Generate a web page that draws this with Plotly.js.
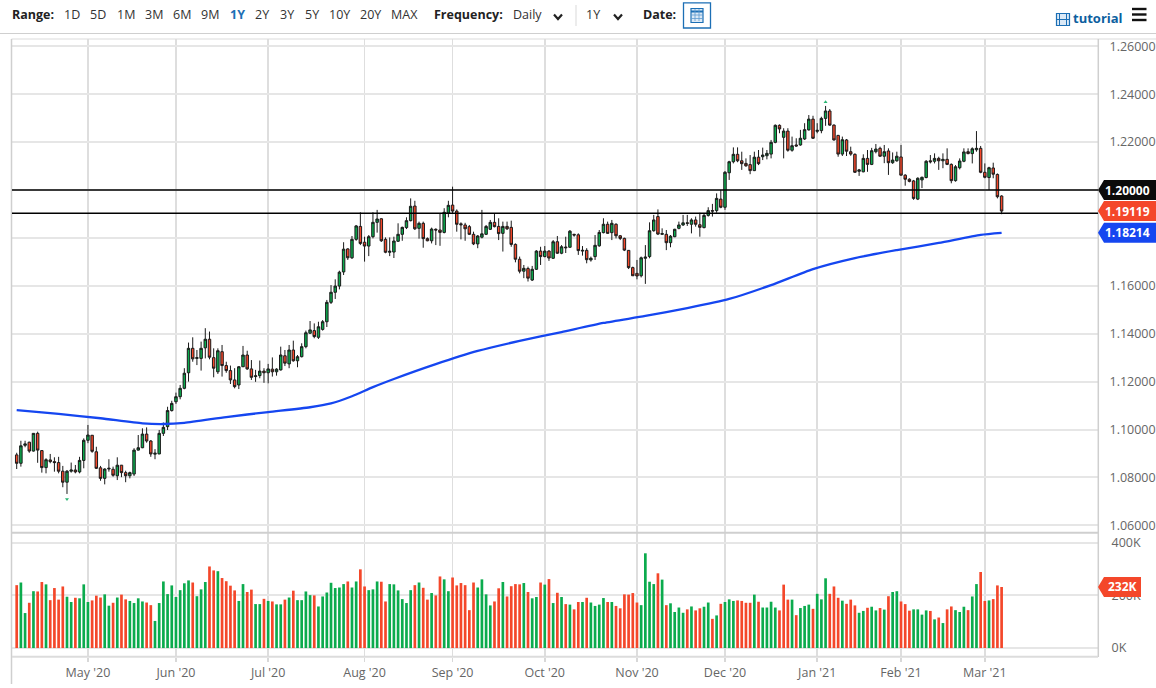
<!DOCTYPE html>
<html>
<head>
<meta charset="utf-8">
<script src="https://cdn.plot.ly/plotly-3.0.1.min.js"></script>
<style>html,body{margin:0;padding:0;background:#fff;overflow:hidden}#chart{width:1156px;height:688px}</style>
</head>
<body>
<div id="chart"></div>
<script>
const dates = [
"2020-04-08","2020-04-09","2020-04-10","2020-04-13","2020-04-14","2020-04-15","2020-04-16","2020-04-17","2020-04-20","2020-04-21","2020-04-22","2020-04-23","2020-04-24","2020-04-27","2020-04-28","2020-04-29","2020-04-30",
"2020-05-01","2020-05-04","2020-05-05","2020-05-06","2020-05-07","2020-05-08","2020-05-11","2020-05-12","2020-05-13","2020-05-14","2020-05-15","2020-05-18","2020-05-19","2020-05-20","2020-05-21","2020-05-22","2020-05-25","2020-05-26","2020-05-27","2020-05-28","2020-05-29",
"2020-06-01","2020-06-02","2020-06-03","2020-06-04","2020-06-05","2020-06-08","2020-06-09","2020-06-10","2020-06-11","2020-06-12","2020-06-15","2020-06-16","2020-06-17","2020-06-18","2020-06-19","2020-06-22","2020-06-23","2020-06-24","2020-06-25","2020-06-26","2020-06-29","2020-06-30",
"2020-07-01","2020-07-02","2020-07-03","2020-07-06","2020-07-07","2020-07-08","2020-07-09","2020-07-10","2020-07-13","2020-07-14","2020-07-15","2020-07-16","2020-07-17","2020-07-20","2020-07-21","2020-07-22","2020-07-23","2020-07-24","2020-07-27","2020-07-28","2020-07-29","2020-07-30","2020-07-31",
"2020-08-03","2020-08-04","2020-08-05","2020-08-06","2020-08-07","2020-08-10","2020-08-11","2020-08-12","2020-08-13","2020-08-14","2020-08-17","2020-08-18","2020-08-19","2020-08-20","2020-08-21","2020-08-24","2020-08-25","2020-08-26","2020-08-27","2020-08-28","2020-08-31",
"2020-09-01","2020-09-02","2020-09-03","2020-09-04","2020-09-07","2020-09-08","2020-09-09","2020-09-10","2020-09-11","2020-09-14","2020-09-15","2020-09-16","2020-09-17","2020-09-18","2020-09-21","2020-09-22","2020-09-23","2020-09-24","2020-09-25","2020-09-28","2020-09-29","2020-09-30",
"2020-10-01","2020-10-02","2020-10-05","2020-10-06","2020-10-07","2020-10-08","2020-10-09","2020-10-12","2020-10-13","2020-10-14","2020-10-15","2020-10-16","2020-10-19","2020-10-20","2020-10-21","2020-10-22","2020-10-23","2020-10-26","2020-10-27","2020-10-28","2020-10-29","2020-10-30",
"2020-11-02","2020-11-03","2020-11-04","2020-11-05","2020-11-06","2020-11-09","2020-11-10","2020-11-11","2020-11-12","2020-11-13","2020-11-16","2020-11-17","2020-11-18","2020-11-19","2020-11-20","2020-11-23","2020-11-24","2020-11-25","2020-11-26","2020-11-27","2020-11-30",
"2020-12-01","2020-12-02","2020-12-03","2020-12-04","2020-12-07","2020-12-08","2020-12-09","2020-12-10","2020-12-11","2020-12-14","2020-12-15","2020-12-16","2020-12-17","2020-12-18","2020-12-21","2020-12-22","2020-12-23","2020-12-24","2020-12-28","2020-12-29","2020-12-30","2020-12-31",
"2021-01-04","2021-01-05","2021-01-06","2021-01-07","2021-01-08","2021-01-11","2021-01-12","2021-01-13","2021-01-14","2021-01-15","2021-01-18","2021-01-19","2021-01-20","2021-01-21","2021-01-22","2021-01-25","2021-01-26","2021-01-27","2021-01-28","2021-01-29",
"2021-02-01","2021-02-02","2021-02-03","2021-02-04","2021-02-05","2021-02-08","2021-02-09","2021-02-10","2021-02-11","2021-02-12","2021-02-15","2021-02-16","2021-02-17","2021-02-18","2021-02-19","2021-02-22","2021-02-23","2021-02-24","2021-02-25","2021-02-26",
"2021-03-01","2021-03-02","2021-03-03","2021-03-04","2021-03-05"];

const opens = [
1.0894,1.0859,1.0934,1.0947,1.0910,1.0984,1.0912,1.0841,1.0873,1.0866,
1.0862,1.0826,1.0780,1.0826,1.0831,1.0823,1.0871,1.0955,1.0976,1.0907,
1.0840,1.0796,1.0835,1.0834,1.0807,1.0851,1.0820,1.0807,1.0814,1.0914,
1.0924,1.0981,1.0952,1.0897,1.0898,1.0984,1.1012,1.1079,1.1116,1.1137,
1.1172,1.1237,1.1339,1.1297,1.1297,1.1341,1.1377,1.1300,1.1241,1.1325,
1.1267,1.1246,1.1207,1.1186,1.1262,1.1311,1.1253,1.1221,1.1225,1.1244,
1.1237,1.1252,1.1241,1.1249,1.1308,1.1274,1.1332,1.1287,1.1304,1.1346,
1.1402,1.1413,1.1385,1.1418,1.1450,1.1531,1.1573,1.1599,1.1658,1.1754,
1.1717,1.1794,1.1848,1.1782,1.1766,1.1805,1.1865,1.1880,1.1794,1.1740,
1.1741,1.1786,1.1815,1.1843,1.1872,1.1933,1.1840,1.1861,1.1797,1.1788,
1.1836,1.1833,1.1823,1.1903,1.1937,1.1912,1.1859,1.1854,1.1847,1.1815,
1.1775,1.1803,1.1815,1.1836,1.1865,1.1848,1.1819,1.1848,1.1844,1.1773,
1.1711,1.1661,1.1672,1.1624,1.1669,1.1745,1.1722,1.1745,1.1715,1.1784,
1.1736,1.1762,1.1761,1.1815,1.1813,1.1745,1.1748,1.1708,1.1722,1.1767,
1.1822,1.1857,1.1822,1.1857,1.1809,1.1798,1.1748,1.1676,1.1652,1.1642,
1.1715,1.1722,1.1830,1.1889,1.1815,1.1815,1.1780,1.1805,1.1840,1.1854,
1.1863,1.1857,1.1875,1.1855,1.1843,1.1894,1.1914,1.1914,1.1962,1.1928,
1.2072,1.2118,1.2149,1.2122,1.2111,1.2106,1.2081,1.2137,1.2139,1.2143,
1.2150,1.2199,1.2270,1.2220,1.2246,1.2166,1.2188,1.2188,1.2213,1.2251,
1.2296,1.2245,1.2248,1.2299,1.2330,1.2271,1.2228,1.2150,1.2209,1.2160,
1.2149,1.2078,1.2076,1.2132,1.2107,1.2160,1.2174,1.2141,1.2163,1.2114,
1.2122,1.2138,1.2062,1.2045,1.2038,1.1962,1.2042,1.2052,1.2122,1.2120,
1.2132,1.2122,1.2128,1.2107,1.2039,1.2093,1.2120,1.2160,1.2152,1.2168,
1.2174,1.2074,1.2052,1.2092,1.2065,1.1975];

const highs = [
1.0903,1.0953,1.0953,1.0949,1.0985,1.0991,1.0914,1.0880,1.0898,1.0884,
1.0886,1.0848,1.0831,1.0862,1.0852,1.0886,1.0963,1.1019,1.0977,1.0928,
1.0848,1.0838,1.0876,1.0845,1.0884,1.0852,1.0828,1.0824,1.0922,1.0977,
1.1005,1.1009,1.0956,1.0918,1.0998,1.1029,1.1095,1.1120,1.1154,1.1186,
1.1256,1.1363,1.1385,1.1332,1.1367,1.1423,1.1409,1.1339,1.1339,1.1353,
1.1283,1.1267,1.1256,1.1265,1.1349,1.1329,1.1290,1.1249,1.1288,1.1256,
1.1274,1.1301,1.1256,1.1346,1.1332,1.1353,1.1371,1.1311,1.1360,1.1413,
1.1453,1.1443,1.1450,1.1457,1.1541,1.1603,1.1627,1.1663,1.1782,1.1757,
1.1808,1.1854,1.1907,1.1805,1.1812,1.1907,1.1917,1.1882,1.1802,1.1802,
1.1805,1.1861,1.1847,1.1886,1.1965,1.1955,1.1868,1.1868,1.1802,1.1843,
1.1840,1.1903,1.1924,1.1955,1.2014,1.1919,1.1865,1.1863,1.1854,1.1826,
1.1812,1.1917,1.1854,1.1875,1.1903,1.1882,1.1868,1.1868,1.1872,1.1777,
1.1722,1.1687,1.1680,1.1683,1.1749,1.1763,1.1766,1.1749,1.1791,1.1808,
1.1770,1.1805,1.1833,1.1817,1.1819,1.1766,1.1757,1.1722,1.1812,1.1833,
1.1882,1.1868,1.1875,1.1861,1.1812,1.1801,1.1749,1.1680,1.1708,1.1722,
1.1770,1.1865,1.1896,1.1919,1.1840,1.1833,1.1812,1.1838,1.1868,1.1896,
1.1896,1.1882,1.1889,1.1905,1.1900,1.1928,1.1942,1.1986,1.2000,1.2079,
1.2122,1.2178,1.2178,1.2160,1.2132,1.2146,1.2160,1.2167,1.2177,1.2167,
1.2209,1.2274,1.2274,1.2258,1.2258,1.2223,1.2216,1.2251,1.2279,1.2313,
1.2310,1.2279,1.2306,1.2351,1.2338,1.2274,1.2230,1.2223,1.2213,1.2181,
1.2153,1.2088,1.2149,1.2167,1.2176,1.2192,1.2181,1.2188,1.2174,1.2157,
1.2160,1.2188,1.2066,1.2049,1.2042,1.2053,1.2056,1.2125,1.2146,1.2153,
1.2139,1.2153,1.2174,1.2111,1.2104,1.2132,1.2174,1.2174,1.2178,1.2246,
1.2184,1.2111,1.2097,1.2114,1.2069,1.1978];

const lows = [
1.0835,1.0845,1.0926,1.0903,1.0908,1.0861,1.0820,1.0817,1.0859,1.0824,
1.0817,1.0759,1.0731,1.0820,1.0817,1.0817,1.0838,1.0943,1.0903,1.0835,
1.0786,1.0771,1.0824,1.0803,1.0789,1.0801,1.0780,1.0796,1.0806,1.0912,
1.0922,1.0945,1.0886,1.0876,1.0897,1.0973,1.0998,1.1075,1.1107,1.1126,
1.1168,1.1200,1.1283,1.1269,1.1246,1.1297,1.1293,1.1218,1.1232,1.1221,
1.1237,1.1190,1.1172,1.1169,1.1261,1.1249,1.1207,1.1199,1.1214,1.1195,
1.1193,1.1221,1.1225,1.1246,1.1265,1.1256,1.1283,1.1260,1.1301,1.1339,
1.1399,1.1381,1.1378,1.1413,1.1428,1.1524,1.1545,1.1585,1.1645,1.1708,
1.1712,1.1788,1.1770,1.1701,1.1724,1.1798,1.1822,1.1783,1.1736,1.1724,
1.1716,1.1783,1.1788,1.1837,1.1869,1.1833,1.1797,1.1759,1.1786,1.1777,
1.1770,1.1767,1.1819,1.1886,1.1903,1.1826,1.1794,1.1788,1.1812,1.1770,
1.1757,1.1798,1.1812,1.1833,1.1844,1.1791,1.1743,1.1833,1.1763,1.1698,
1.1652,1.1632,1.1618,1.1620,1.1666,1.1687,1.1719,1.1704,1.1712,1.1733,
1.1732,1.1737,1.1759,1.1805,1.1729,1.1726,1.1694,1.1701,1.1708,1.1763,
1.1819,1.1817,1.1791,1.1798,1.1791,1.1745,1.1670,1.1641,1.1627,1.1635,
1.1608,1.1715,1.1826,1.1812,1.1812,1.1749,1.1761,1.1803,1.1836,1.1850,
1.1850,1.1819,1.1847,1.1805,1.1840,1.1889,1.1889,1.1905,1.1924,1.1917,
1.2042,1.2111,1.2116,1.2084,1.2097,1.2066,1.2079,1.2104,1.2125,1.2128,
1.2132,1.2195,1.2237,1.2132,1.2160,1.2160,1.2181,1.2185,1.2209,1.2248,
1.2213,1.2237,1.2237,1.2268,1.2268,1.2206,1.2139,1.2142,1.2142,1.2143,
1.2071,1.2059,1.2074,1.2076,1.2104,1.2153,1.2139,1.2112,1.2063,1.2109,
1.2118,1.2060,1.2018,1.2032,1.1959,1.1958,1.2008,1.2049,1.2111,1.2111,
1.2084,1.2091,1.2104,1.2028,1.2035,1.2086,1.2116,1.2149,1.2111,1.2160,
1.2070,1.2049,1.2000,1.2049,1.1965,1.1899];

const closes = [
1.0859,1.0932,1.0940,1.0910,1.0984,1.0914,1.0841,1.0874,1.0866,1.0862,
1.0826,1.0780,1.0826,1.0831,1.0823,1.0871,1.0955,1.0977,1.0909,1.0838,
1.0796,1.0835,1.0838,1.0809,1.0851,1.0820,1.0807,1.0820,1.0914,1.0924,
1.0981,1.0952,1.0898,1.0901,1.0984,1.1009,1.1079,1.1109,1.1137,1.1172,
1.1235,1.1339,1.1295,1.1300,1.1339,1.1377,1.1302,1.1256,1.1329,1.1267,
1.1246,1.1207,1.1179,1.1262,1.1311,1.1253,1.1218,1.1224,1.1244,1.1237,
1.1253,1.1241,1.1252,1.1311,1.1277,1.1332,1.1287,1.1304,1.1346,1.1404,
1.1416,1.1388,1.1429,1.1450,1.1531,1.1573,1.1599,1.1657,1.1753,1.1717,
1.1794,1.1850,1.1777,1.1766,1.1805,1.1865,1.1879,1.1788,1.1740,1.1744,
1.1787,1.1815,1.1844,1.1872,1.1932,1.1838,1.1861,1.1797,1.1788,1.1837,
1.1833,1.1823,1.1907,1.1936,1.1912,1.1857,1.1855,1.1838,1.1815,1.1775,
1.1808,1.1817,1.1848,1.1865,1.1847,1.1818,1.1848,1.1838,1.1773,1.1711,
1.1661,1.1673,1.1632,1.1669,1.1745,1.1722,1.1745,1.1716,1.1784,1.1736,
1.1763,1.1759,1.1828,1.1812,1.1747,1.1748,1.1709,1.1715,1.1769,1.1823,
1.1857,1.1819,1.1861,1.1809,1.1798,1.1749,1.1676,1.1642,1.1641,1.1717,
1.1720,1.1830,1.1875,1.1816,1.1818,1.1780,1.1807,1.1836,1.1854,1.1863,
1.1861,1.1875,1.1857,1.1844,1.1894,1.1914,1.1912,1.1965,1.1928,1.2074,
1.2118,1.2149,1.2122,1.2110,1.2101,1.2081,1.2137,1.2110,1.2146,1.2153,
1.2199,1.2270,1.2255,1.2246,1.2166,1.2185,1.2184,1.2216,1.2252,1.2296,
1.2216,1.2249,1.2299,1.2330,1.2271,1.2209,1.2150,1.2210,1.2162,1.2150,
1.2074,1.2084,1.2132,1.2107,1.2164,1.2171,1.2141,1.2160,1.2114,1.2125,
1.2141,1.2062,1.2045,1.2036,1.1965,1.2049,1.2053,1.2120,1.2118,1.2132,
1.2122,1.2128,1.2107,1.2039,1.2097,1.2121,1.2159,1.2152,1.2172,1.2174,
1.2074,1.2053,1.2093,1.2066,1.1972,1.1912];

const volumes = [
239,249,133,172,216,215,251,242,182,228,
184,234,195,175,191,189,242,175,181,199,
192,204,161,172,192,203,185,179,171,189,
177,173,163,103,171,253,205,238,194,220,
246,257,249,197,223,251,310,295,292,266,
254,237,219,179,243,213,222,167,167,187,
179,177,166,166,184,192,218,182,182,215,
201,200,158,196,211,248,228,230,243,253,
230,253,299,234,220,223,253,252,177,243,
242,219,186,171,220,239,249,229,184,209,
200,272,261,216,268,238,247,239,144,249,
230,261,204,162,177,227,251,196,235,243,
242,247,213,189,194,249,241,262,171,210,
194,167,165,147,175,175,191,173,160,165,
190,175,175,160,151,204,203,209,173,163,
360,252,243,284,260,163,170,137,154,134,
147,158,143,151,157,173,111,124,168,175,
185,179,181,179,172,172,203,176,154,154,
176,154,143,241,184,184,125,152,160,165,
149,206,185,265,206,234,191,180,168,184,
162,134,141,153,157,143,152,146,197,213,
216,177,167,142,147,147,127,143,141,109,
116,95,147,158,144,137,157,144,196,243,
289,179,181,186,238,232];

const volumeDirs = [
"RGGRGRRGRR","RRGGRGGGRR","RGGRGRRGGG","GRRGGGGGGG","GGRGGGRRGR","RRRGGRRGGR",
"GRGGRGRGGG","GRGGGGGGGR","GGRRGGGRRG","GGGGGRGRRG","RRGGRRRRRR","GGGGRRGRRR",
"RGRGGRGRGR","GRGRRGRGGG","GRGRRRRRRG","GGGRGRGGGG","RGRRGGRGRG","GGRRRRGRGG",
"GGRRRGRGGG","RGGGRRRGRR","RGGRGGRGRG","GRRRGGGGRG","RGRRGGGRGG","RRGRRR"].join("");

const maDates = ["2020-04-08","2020-04-22","2020-05-06","2020-05-20","2020-05-27","2020-06-03","2020-06-17","2020-07-01","2020-07-15","2020-07-22","2020-07-29","2020-08-05","2020-08-12","2020-08-26","2020-09-09","2020-09-23","2020-10-07","2020-10-21","2020-11-04","2020-11-18","2020-12-02","2020-12-16","2020-12-31","2021-01-15","2021-01-29","2021-02-12","2021-02-26","2021-03-05"];
const maValues = [1.1081,1.1065,1.1047,1.1026,1.1023,1.1028,1.1052,1.1073,1.1093,1.1109,1.1139,1.1177,1.1211,1.1273,1.1328,1.1370,1.1407,1.1445,1.1474,1.1507,1.1545,1.1603,1.1670,1.1716,1.1749,1.1779,1.1813,1.18214];

const extremeDates = ["2020-04-24","2021-01-06"];
const extremeValues = [1.0709,1.2367];
const extremeSymbols = ["triangle-down","triangle-up"];

const monthTicks = ["2020-05-01","2020-06-01","2020-07-01","2020-08-03","2020-09-01","2020-10-01","2020-11-02","2020-12-01","2021-01-04","2021-02-01","2021-03-01"];
const monthLabels = ["May '20","Jun '20","Jul '20","Aug '20","Sep '20","Oct '20","Nov '20","Dec '20","Jan '21","Feb '21","Mar '21"];
const priceTicks = [1.06,1.08,1.10,1.12,1.14,1.16,1.18,1.20,1.22,1.24,1.26];
const priceLabels = ["1.06000","1.08000","1.10000","1.12000","1.14000","1.16000","","","1.22000","1.24000","1.26000"];
const volumeTicks = [0,200,400];
const volumeLabels = ["0K","200K","400K"];

const supportLevels = [1.20,1.1903];
const lastClose = 1.19119, lastMa = 1.18214, levelTag = 1.20, lastVolume = 232;
const rangeLabels = ["1D","5D","1M","3M","6M","9M","1Y","2Y","3Y","5Y","10Y","20Y","MAX"];
const rangeCentres = [72,98,125.5,153.7,182,210,237,262,287,311.5,339.6,370.7,404.8];

const GREEN="#0bab4d", RED="#f4472a", BLUE="#1546f0", FONT='"Open Sans", sans-serif';
const L=12,R=58,T=39,B=31,W=1156,H=688;
const X=px=>(px-L)/(W-L-R), Y=py=>1-(py-T)/(H-T-B);

function chromeLine(x0,y0,x1,y1,color,width){return {type:'line',xref:'paper',yref:'paper',x0:X(x0),y0:Y(y0),x1:X(x1),y1:Y(y1),line:{color:color,width:width},layer:'above'};}
function chromeRect(x0,y0,x1,y1,color,width,fill){return {type:'rect',xref:'paper',yref:'paper',x0:X(x0),y0:Y(y0),x1:X(x1),y1:Y(y1),line:{color:color,width:width},fillcolor:fill||'rgba(0,0,0,0)',layer:'above'};}
function chromePath(points,color,width){return {type:'path',xref:'paper',yref:'paper',path:points.map((p,i)=>(i?'L':'M')+X(p[0])+','+Y(p[1])).join(' '),line:{color:color,width:width},fillcolor:'rgba(0,0,0,0)',layer:'above'};}
function chromeText(text,cx,cy,opt){opt=opt||{};return {xref:'paper',yref:'paper',x:X(cx),y:Y(cy),text:text,showarrow:false,xanchor:opt.anchor||'center',yanchor:'middle',font:{family:FONT,size:opt.size||12.5,color:opt.color||'#333',weight:opt.weight||400}};}
function tagShape(value,yref,color,right){return {type:'path',xref:'paper',yref:yref,xsizemode:'pixel',ysizemode:'pixel',xanchor:1,yanchor:value,path:`M0,0 L6,10 L${right},10 L${right},-10 L6,-10 Z`,fillcolor:color,line:{width:0},layer:'above'};}
function tagText(text,value,yref,cx){return {xref:'paper',yref:yref,x:X(cx),y:value,text:text,showarrow:false,xanchor:'center',yanchor:'middle',font:{family:FONT,size:12,color:'#fff',weight:700}};}

const shapes=[
 chromeLine(0,33.5,1156,33.5,'#cfcfcf',1.2),
 chromeLine(11.5,39,1156,39,'#dcdcdc',1.2),
 chromeLine(11.5,39,11.5,684,'#cfcfcf',1.5),
 chromeLine(1098.3,39,1098.3,657,'#cfcfcf',1.5),
 chromeLine(12,532.7,1098,532.7,'#cfcfcf',2),
 chromeLine(12,656.7,1098,656.7,'#dcdcdc',2),
 chromeLine(576,5,576,26,'#d9d9d9',1),
 chromePath([[554,14.5],[558,19],[562,14.5]],'#222',2.2),
 chromePath([[614,14.5],[618,19],[622,14.5]],'#222',2.2),
 chromeRect(683.5,2.8,710.5,28,'#1c6fb5',1.3),
 chromeRect(691,8.5,703,22.5,'#1c6fb5',1.2,'#dbe9f6'),
 chromeLine(691,11.5,703,11.5,'#1c6fb5',2),
 chromeLine(695,9,695,21,'#5e9bd0',0.8),
 chromeLine(699,9,699,21,'#5e9bd0',0.8),
 chromeLine(691,15,703,15,'#5e9bd0',0.8),
 chromeLine(691,18.5,703,18.5,'#5e9bd0',0.8),
 chromeRect(1056.5,13.5,1069.5,25.5,'#1c6fb5',1.2,'#dbe9f6'),
 chromeLine(1059.5,13.5,1059.5,25.5,'#1c6fb5',1),
 chromeLine(1066.5,13.5,1066.5,25.5,'#1c6fb5',1),
 chromeLine(1056.5,19.5,1069.5,19.5,'#1c6fb5',1),
 chromeLine(1132,9,1146.5,9,'#111',2.4),
 chromeLine(1132,14.5,1146.5,14.5,'#111',2.4),
 chromeLine(1132,20,1146.5,20,'#111',2.4),
 {type:'line',xref:'paper',yref:'y',x0:0,x1:1,y0:supportLevels[0],y1:supportLevels[0],line:{color:'#000',width:1.3},layer:'above'},
 {type:'line',xref:'paper',yref:'y',x0:0,x1:1,y0:supportLevels[1],y1:supportLevels[1],line:{color:'#000',width:1.3},layer:'above'},
 tagShape(levelTag,'y','#0b0b0b',58),
 tagShape(lastClose,'y',RED,58),
 tagShape(lastMa,'y',BLUE,58),
 tagShape(lastVolume,'y2',RED,43)
];

const annotations=[
 chromeText('Range:',10,14.5,{anchor:'left',weight:700,color:'#222'}),
 chromeText('Frequency:',432,14.5,{anchor:'left',weight:700,color:'#222'}),
 chromeText('Daily',511,14.5,{anchor:'left'}),
 chromeText('1Y',593,14.5),
 chromeText('Date:',641,14.5,{anchor:'left',weight:700,color:'#222'}),
 chromeText('tutorial',1071,18.5,{anchor:'left',weight:700,color:'#0d5f9f',size:13}),
 tagText('1.20000',levelTag,'y',1127),
 tagText('1.19119',lastClose,'y',1127),
 tagText('1.18214',lastMa,'y',1127),
 tagText('232K',lastVolume,'y2',1122)
].concat(rangeLabels.map((t,i)=>chromeText(t,rangeCentres[i],14.5,t==='1Y'?{weight:700,color:'#1c6fb5'}:{})));

const traces=[
 {type:'bar',x:dates,y:volumes,xaxis:'x',yaxis:'y2',marker:{color:dates.map((d,i)=>volumeDirs[i]==='G'?GREEN:RED),line:{width:0}},hoverinfo:'skip',showlegend:false},
 {type:'candlestick',x:dates,open:opens,high:highs,low:lows,close:closes,xaxis:'x',yaxis:'y',
  increasing:{line:{color:'#1a1a1a',width:1},fillcolor:GREEN},decreasing:{line:{color:'#1a1a1a',width:1},fillcolor:RED},whiskerwidth:0,hoverinfo:'skip',showlegend:false},
 {type:'scatter',mode:'lines',x:maDates,y:maValues,xaxis:'x',yaxis:'y',line:{color:BLUE,width:2.3,shape:'spline',smoothing:0.6},hoverinfo:'skip',showlegend:false},
 {type:'scatter',mode:'markers',x:extremeDates,y:extremeValues,xaxis:'x',yaxis:'y',marker:{color:'#2bb673',size:3.5,symbol:extremeSymbols},hoverinfo:'skip',showlegend:false}
];

const layout={
 width:W,height:H,margin:{l:L,r:R,t:T,b:B,pad:0},paper_bgcolor:'#fff',plot_bgcolor:'#fff',
 font:{family:FONT,size:12.5,color:'#666'},showlegend:false,bargap:0.36,boxgap:0.16,
 xaxis:{type:'category',categoryorder:'array',categoryarray:dates,range:[-1.12,258],anchor:'y2',rangeslider:{visible:false},
  tickmode:'array',tickvals:monthTicks,ticktext:monthLabels,ticks:'outside',ticklen:4,tickcolor:'#d8d8d8',tickwidth:1.5,
  showgrid:true,gridcolor:'#dedede',gridwidth:1.6,zeroline:false,showline:false,tickfont:{family:FONT,size:12.5,color:'#666'},fixedrange:true},
 yaxis:{domain:[0.2006,1],range:[1.05678,1.26305],side:'right',anchor:'x',tickmode:'array',tickvals:priceTicks,ticktext:priceLabels,
  ticks:'outside',ticklen:8,tickcolor:'rgba(0,0,0,0)',showgrid:true,gridcolor:'#e6e6e6',gridwidth:2,zeroline:false,showline:false,tickfont:{family:FONT,size:12.5,color:'#666'},fixedrange:true},
 yaxis2:{domain:[0,0.2006],range:[-34,437],side:'right',anchor:'x',tickmode:'array',tickvals:volumeTicks,ticktext:volumeLabels,
  ticks:'outside',ticklen:10,tickcolor:'rgba(0,0,0,0)',showgrid:true,gridcolor:'#e6e6e6',gridwidth:2,zeroline:false,showline:false,tickfont:{family:FONT,size:12.5,color:'#666'},fixedrange:true},
 shapes:shapes,annotations:annotations
};

Plotly.newPlot('chart',traces,layout,{displayModeBar:false,responsive:false,staticPlot:true});
</script>
</body>
</html>
